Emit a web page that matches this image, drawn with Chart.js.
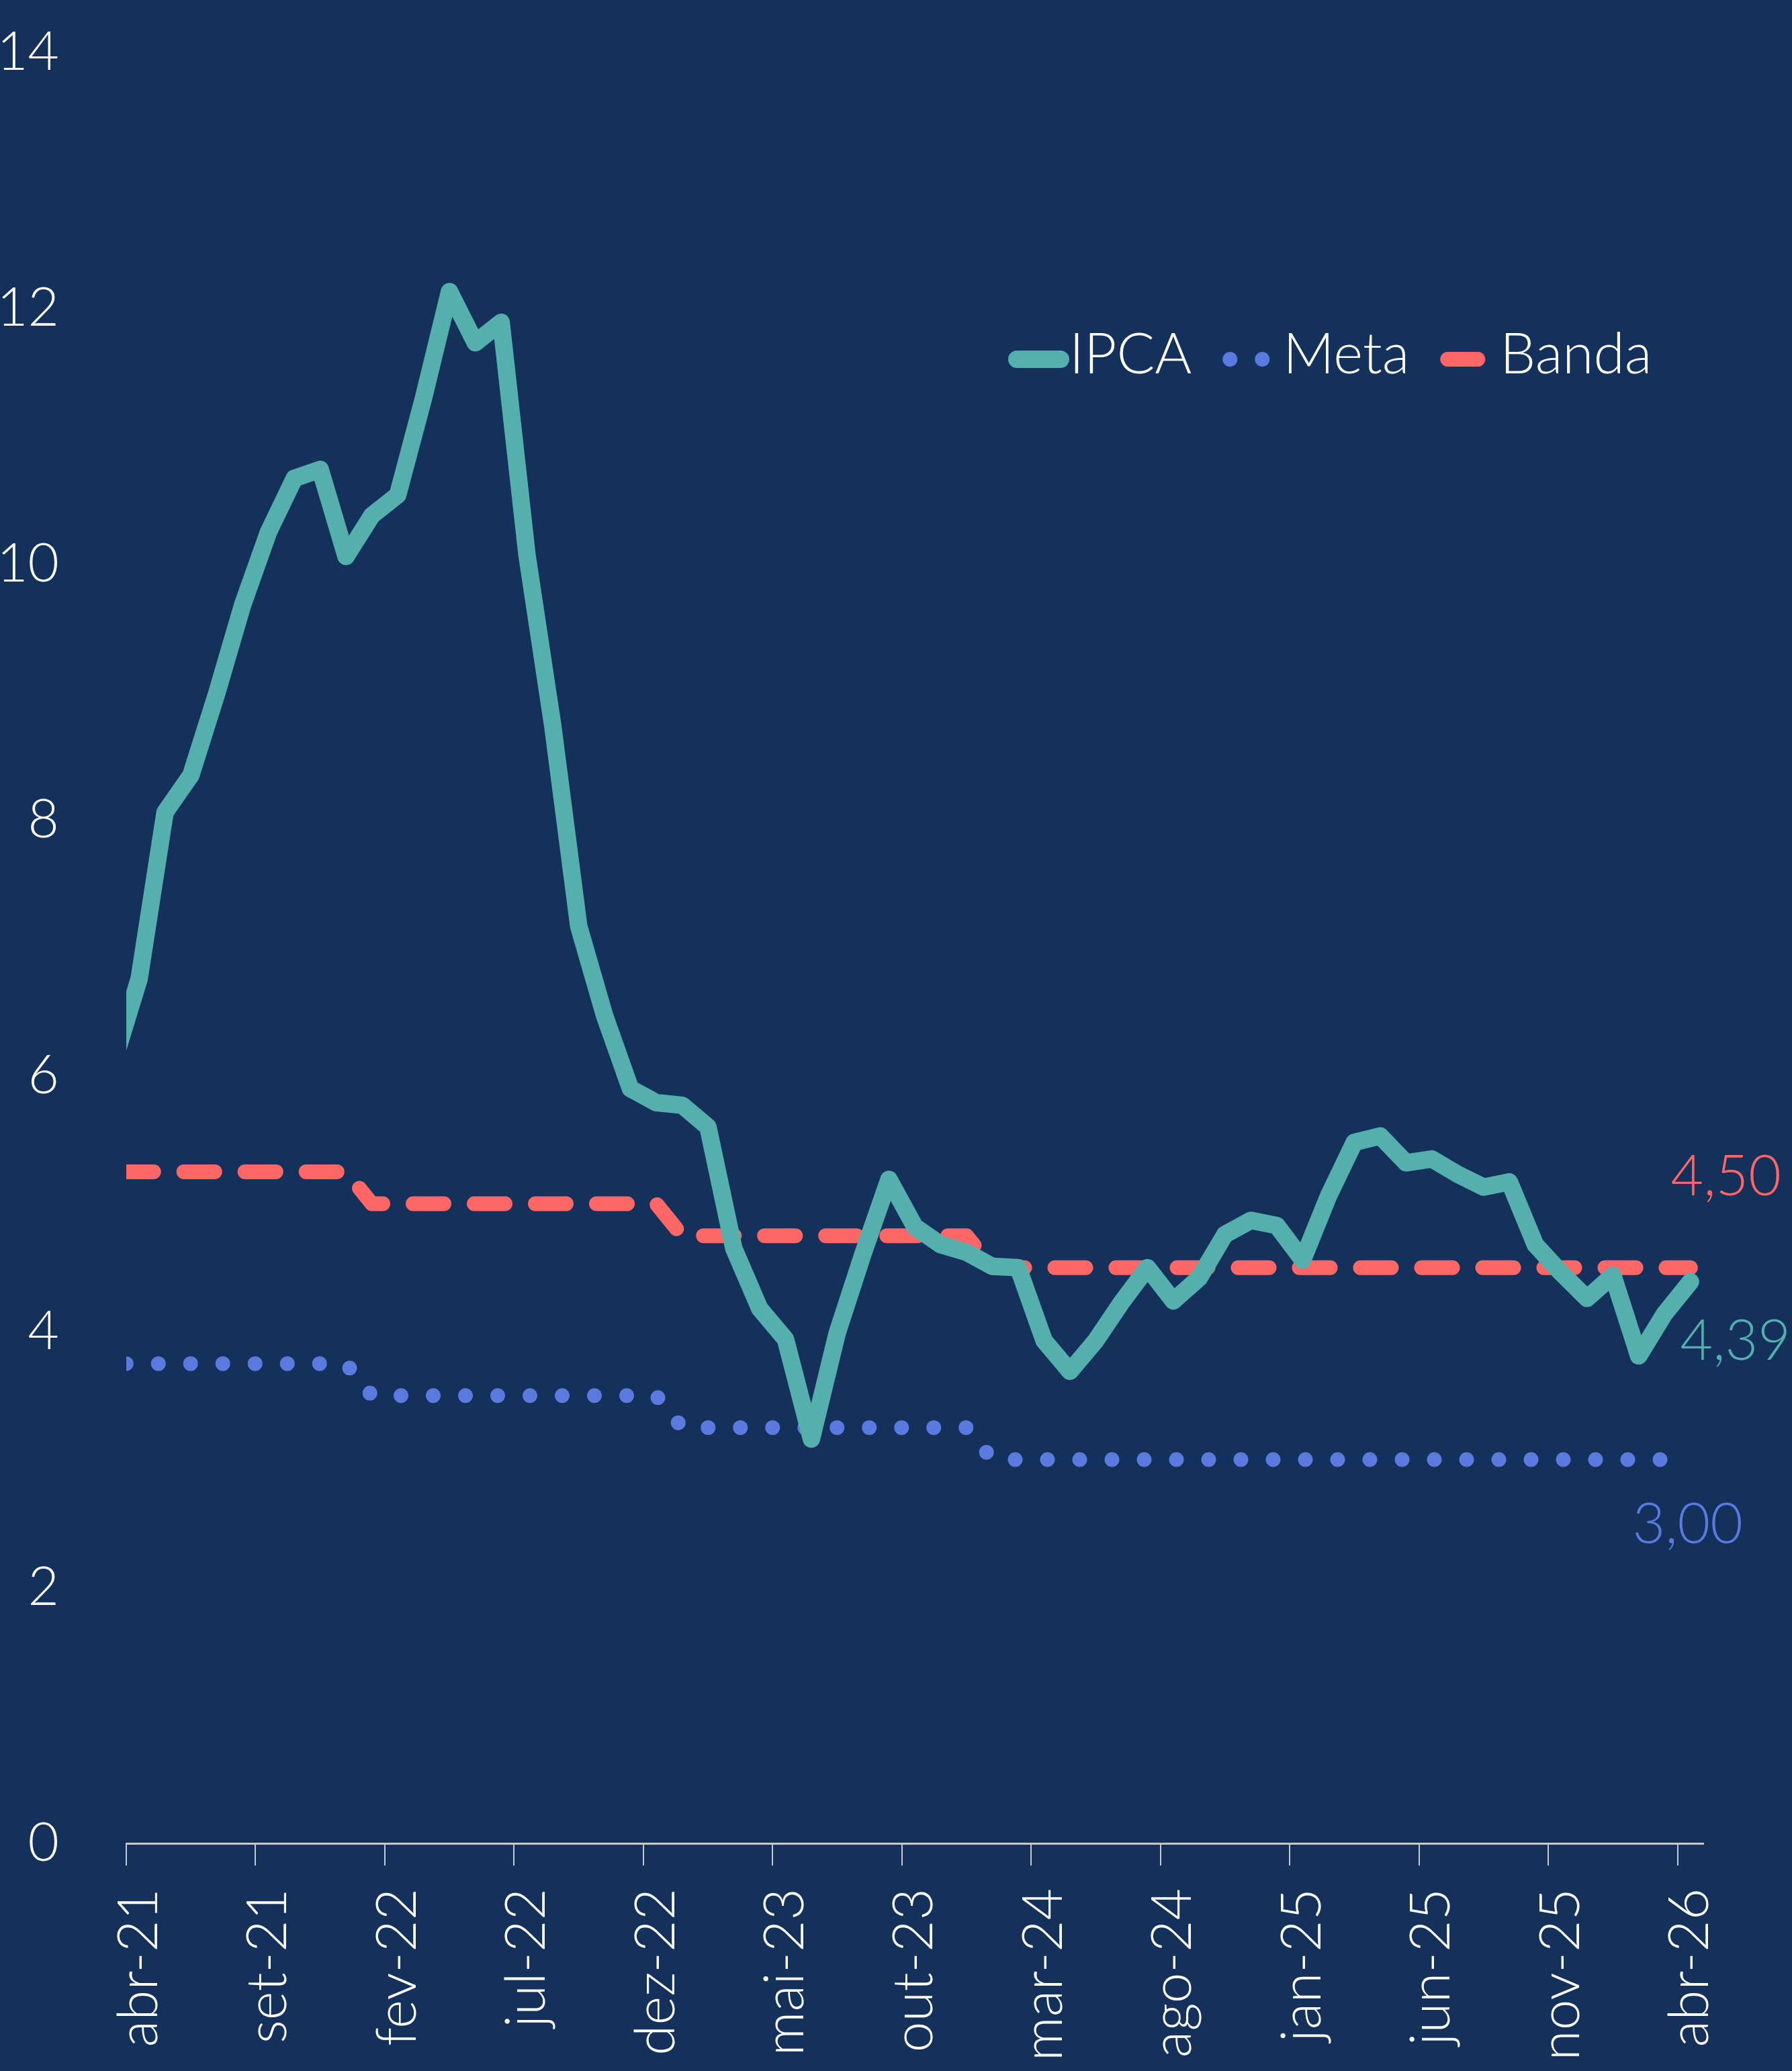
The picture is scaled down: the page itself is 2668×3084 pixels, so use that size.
<!DOCTYPE html>
<html>
<head>
<meta charset="utf-8">
<script src="https://cdn.jsdelivr.net/npm/chart.js@4.4.1/dist/chart.umd.min.js"></script>
<style>
    html, body { margin: 0; padding: 0; background: #13315a; }
    canvas { display: block; }
</style>
</head>
<body>
<canvas id="ipca_chart" width="2668" height="3084"></canvas>
<script>
// mar-21 is only there so the line runs into the left edge (scale starts at abr-21)
const months = [
    'mar-21', 'abr-21', 'mai-21', 'jun-21', 'jul-21', 'ago-21', 'set-21', 'out-21', 'nov-21', 'dez-21',
    'jan-22', 'fev-22', 'mar-22', 'abr-22', 'mai-22', 'jun-22', 'jul-22', 'ago-22', 'set-22', 'out-22', 'nov-22', 'dez-22',
    'jan-23', 'fev-23', 'mar-23', 'abr-23', 'mai-23', 'jun-23', 'jul-23', 'ago-23', 'set-23', 'out-23', 'nov-23', 'dez-23',
    'jan-24', 'fev-24', 'mar-24', 'abr-24', 'mai-24', 'jun-24', 'jul-24', 'ago-24', 'set-24', 'out-24', 'nov-24', 'dez-24',
    'jan-25', 'fev-25', 'mar-25', 'abr-25', 'mai-25', 'jun-25', 'jul-25', 'ago-25', 'set-25', 'out-25', 'nov-25', 'dez-25',
    'jan-26', 'fev-26', 'mar-26', 'abr-26'
];

const ipca = [
    6.10, 6.76, 8.06, 8.35, 8.99, 9.68, 10.25, 10.67, 10.74, 10.06,
    10.38, 10.54, 11.30, 12.13, 11.73, 11.89, 10.07, 8.73, 7.17, 6.47, 5.90, 5.79,
    5.77, 5.60, 4.65, 4.18, 3.94, 3.16, 3.99, 4.61, 5.19, 4.82, 4.68, 4.62,
    4.51, 4.50, 3.93, 3.69, 3.93, 4.23, 4.50, 4.24, 4.42, 4.76, 4.87, 4.83,
    4.56, 5.06, 5.48, 5.53, 5.32, 5.35, 5.23, 5.13, 5.17, 4.68, 4.46, 4.26,
    4.44, 3.81, 4.14, 4.39
];

const meta = [
    3.75, 3.75, 3.75, 3.75, 3.75, 3.75, 3.75, 3.75, 3.75, 3.75,
    3.50, 3.50, 3.50, 3.50, 3.50, 3.50, 3.50, 3.50, 3.50, 3.50, 3.50, 3.50,
    3.25, 3.25, 3.25, 3.25, 3.25, 3.25, 3.25, 3.25, 3.25, 3.25, 3.25, 3.25,
    3.00, 3.00, 3.00, 3.00, 3.00, 3.00, 3.00, 3.00, 3.00, 3.00, 3.00, 3.00,
    3.00, 3.00, 3.00, 3.00, 3.00, 3.00, 3.00, 3.00, 3.00, 3.00, 3.00, 3.00,
    3.00, 3.00, 3.00, 3.00
];

const banda = [
    5.25, 5.25, 5.25, 5.25, 5.25, 5.25, 5.25, 5.25, 5.25, 5.25,
    5.00, 5.00, 5.00, 5.00, 5.00, 5.00, 5.00, 5.00, 5.00, 5.00, 5.00, 5.00,
    4.75, 4.75, 4.75, 4.75, 4.75, 4.75, 4.75, 4.75, 4.75, 4.75, 4.75, 4.75,
    4.50, 4.50, 4.50, 4.50, 4.50, 4.50, 4.50, 4.50, 4.50, 4.50, 4.50, 4.50,
    4.50, 4.50, 4.50, 4.50, 4.50, 4.50, 4.50, 4.50, 4.50, 4.50, 4.50, 4.50,
    4.50, 4.50, 4.50, 4.50
];

const yTicks = [0, 2, 4, 6, 8, 10, 12, 14];

const bgColor = '#13315a';
const axisColor = '#c8c8c8';
const fontFamily = 'Lato, "Open Sans", sans-serif';

// legend sample sizes, and where the last values are written
const legendSwatch = [{width: 91, gap: 0}, {width: 72, gap: 18}, {width: 67, gap: 22}];
const endLabelOffset = [{dx: 67, dy: 116}, {dx: -4, dy: 124}, {dx: 53, dy: -108}];

const showTick = ctx => ctx.tick !== undefined && (ctx.tick.value - 1) % 5 === 0;

const background = {
    id: 'background',
    beforeDraw(chart) {
        const ctx = chart.ctx;
        ctx.save();
        ctx.fillStyle = bgColor;
        ctx.fillRect(0, 0, chart.width, chart.height);
        ctx.restore();
    }
};

const lineLegend = {
    id: 'lineLegend',
    afterDraw(chart) {
        const ctx = chart.ctx;
        ctx.save();
        ctx.font = '300 84px ' + fontFamily;
        ctx.textAlign = 'left';
        ctx.textBaseline = 'alphabetic';
        let x = 1501;
        const y = 535;
        chart.data.datasets.forEach((ds, i) => {
            const s = legendSwatch[i];
            const half = ds.borderWidth / 2;
            ctx.beginPath();
            ctx.strokeStyle = ds.borderColor;
            ctx.lineWidth = ds.borderWidth;
            ctx.lineCap = 'round';
            ctx.setLineDash(ds.borderDash || []);
            ctx.lineDashOffset = 0;
            ctx.moveTo(x + half, y);
            ctx.lineTo(x + s.width - half, y);
            ctx.stroke();
            ctx.setLineDash([]);
            x += s.width + s.gap;
            ctx.fillStyle = '#ffffff';
            ctx.fillText(ds.label, x, y + 21);
            x += ctx.measureText(ds.label).width + 46;
        });
        ctx.restore();
    }
};

const endLabels = {
    id: 'endLabels',
    afterDatasetsDraw(chart) {
        const ctx = chart.ctx;
        ctx.save();
        ctx.font = '300 84px ' + fontFamily;
        ctx.textAlign = 'center';
        ctx.textBaseline = 'alphabetic';
        chart.data.datasets.forEach((ds, i) => {
            const pts = chart.getDatasetMeta(i).data;
            const last = pts[pts.length - 1];
            const value = ds.data[ds.data.length - 1];
            const off = endLabelOffset[i];
            ctx.fillStyle = ds.borderColor;
            ctx.fillText(value.toFixed(2).replace('.', ','), last.x + off.dx, last.y + off.dy);
        });
        ctx.restore();
    }
};

const chart = new Chart(document.getElementById('ipca_chart').getContext('2d'), {
    type: 'line',
    data: {
        labels: months,
        datasets: [
            {
                label: 'IPCA',
                data: ipca,
                borderColor: '#55afac',
                borderWidth: 26,
                borderJoinStyle: 'round',
                borderCapStyle: 'round',
                pointRadius: 0,
                tension: 0,
                fill: false
            },
            {
                label: 'Meta',
                data: meta,
                borderColor: '#5b7ae0',
                borderWidth: 22,
                borderDash: [0, 48],
                borderDashOffset: 29,
                borderCapStyle: 'round',
                borderJoinStyle: 'round',
                pointRadius: 0,
                fill: false
            },
            {
                label: 'Banda',
                data: banda,
                borderColor: '#ff6666',
                borderWidth: 22,
                borderDash: [46, 45],
                borderDashOffset: 77,
                borderCapStyle: 'round',
                borderJoinStyle: 'round',
                pointRadius: 0,
                fill: false
            }
        ]
    },
    options: {
        responsive: false,
        animation: false,
        layout: {
            padding: {top: 78, right: 132, bottom: 0, left: 0}
        },
        plugins: {
            legend: {display: false},
            tooltip: {enabled: false}
        },
        scales: {
            x: {
                type: 'category',
                min: 'abr-21',
                offset: true,
                afterFit(scale) { scale.height = 339; },
                grid: {
                    offset: true,
                    drawOnChartArea: false,
                    drawTicks: true,
                    tickLength: 33,
                    lineWidth: 2,
                    color: ctx => showTick(ctx) ? axisColor : 'rgba(0,0,0,0)',
                    tickColor: ctx => showTick(ctx) ? axisColor : 'rgba(0,0,0,0)'
                },
                border: {display: true, color: axisColor, width: 3},
                ticks: {
                    autoSkip: false,
                    minRotation: 90,
                    maxRotation: 90,
                    padding: 34,
                    color: '#ffffff',
                    font: {family: fontFamily, size: 82, weight: '300'},
                    callback: function (value) {
                        return (value - 1) % 5 === 0 ? this.getLabelForValue(value) : '';
                    }
                }
            },
            y: {
                min: yTicks[0],
                max: yTicks[yTicks.length - 1],
                afterFit(scale) { scale.width = 188; },
                afterBuildTicks(scale) { scale.ticks = yTicks.map(v => ({value: v})); },
                // invisible tick marks push the labels left without adding top padding
                grid: {display: true, drawOnChartArea: false, drawTicks: true, tickLength: 76, color: 'rgba(0,0,0,0)'},
                border: {display: false},
                ticks: {
                    padding: 24,
                    color: '#ffffff',
                    font: {family: fontFamily, size: 80, weight: '300'}
                }
            }
        }
    },
    plugins: [background, lineLegend, endLabels]
});
</script>
</body>
</html>
